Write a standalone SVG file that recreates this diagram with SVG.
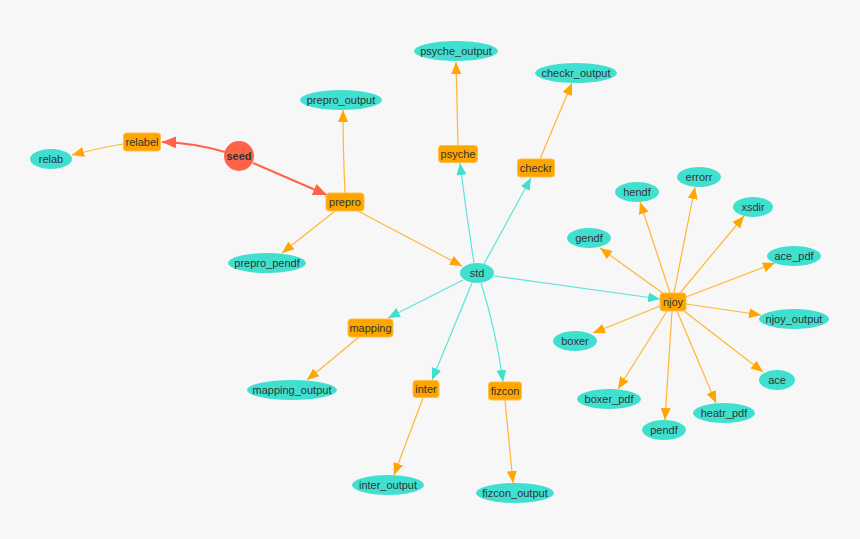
<svg xmlns="http://www.w3.org/2000/svg" width="860" height="539" viewBox="0 0 860 539">
<defs>
<style>
.bg{fill:#f7f7f7}
.e{fill:none;stroke-width:1.2}
.eo{stroke:#ffb733}
.et{stroke:#5ce5d8}
.er{stroke:#ff6347;stroke-width:2}
.box{fill:#ffa500;stroke:#ffbf4d;stroke-width:1}
.ell{fill:#40e0d0}
.seed{fill:#ff6347}
text{font-family:"Liberation Sans",Arial,sans-serif;font-size:11px;fill:#333;text-anchor:middle;dominant-baseline:central}
</style>
<marker id="ao" markerUnits="userSpaceOnUse" markerWidth="13" markerHeight="11" refX="12" refY="5" orient="auto"><path d="M0,0 L12,5 L0,10 z" fill="#ffa500"/></marker>
<marker id="at" markerUnits="userSpaceOnUse" markerWidth="13" markerHeight="11" refX="12" refY="5" orient="auto"><path d="M0,0 L12,5 L0,10 z" fill="#40e0d0"/></marker>
<marker id="ar" markerUnits="userSpaceOnUse" markerWidth="15" markerHeight="13" refX="14" refY="6" orient="auto"><path d="M0,0 L14,6 L0,12 z" fill="#ff6347"/></marker>
</defs>
<rect class="bg" width="860" height="539"/>
<g id="connectors">
<path class="e er" d="M225,152 Q195,143 162,142" marker-end="url(#ar)"/>
<path class="e er" d="M253,163 L327,195" marker-end="url(#ar)"/>
<path class="e eo" d="M123,144 Q98,148 72,155" marker-end="url(#ao)"/>
<path class="e eo" d="M345,193 Q343,150 343,110" marker-end="url(#ao)"/>
<path class="e eo" d="M335,211 L282,253" marker-end="url(#ao)"/>
<path class="e eo" d="M358,211 L462,266" marker-end="url(#ao)"/>
<path class="e et" d="M474,263 Q466,212 460,163" marker-end="url(#at)"/>
<path class="e eo" d="M458,145 L456,62" marker-end="url(#ao)"/>
<path class="e et" d="M484,264 L531,178" marker-end="url(#at)"/>
<path class="e eo" d="M540,159 L572,83" marker-end="url(#ao)"/>
<path class="e et" d="M463,280 L388,318" marker-end="url(#at)"/>
<path class="e eo" d="M359,337 L307,380" marker-end="url(#ao)"/>
<path class="e et" d="M472,283 L432,380" marker-end="url(#at)"/>
<path class="e eo" d="M423,398 L394,475" marker-end="url(#ao)"/>
<path class="e et" d="M481,283 Q496,330 503,382" marker-end="url(#at)"/>
<path class="e eo" d="M505,400 L513,483" marker-end="url(#ao)"/>
<path class="e et" d="M494,276 L660,299" marker-end="url(#at)"/>
<path class="e eo" d="M664,294 L600,248" marker-end="url(#ao)"/>
<path class="e eo" d="M670,293 L640,202" marker-end="url(#ao)"/>
<path class="e eo" d="M674,293 L695,187" marker-end="url(#ao)"/>
<path class="e eo" d="M680,293 L744,216" marker-end="url(#ao)"/>
<path class="e eo" d="M686,297 L775,263" marker-end="url(#ao)"/>
<path class="e eo" d="M686,304 L761,315" marker-end="url(#ao)"/>
<path class="e eo" d="M660,306 L593,333" marker-end="url(#ao)"/>
<path class="e eo" d="M667,311 L618,389" marker-end="url(#ao)"/>
<path class="e eo" d="M672,311 L665,420" marker-end="url(#ao)"/>
<path class="e eo" d="M677,311 L716,403" marker-end="url(#ao)"/>
<path class="e eo" d="M684,311 L763,372" marker-end="url(#ao)"/>
</g>
<g id="seed"><circle class="seed" cx="239" cy="156" r="15"/><text x="239" y="156" style="font-weight:bold">seed</text></g>
<g id="relabel"><rect class="box" x="123.5" y="133" width="37" height="18" rx="3"/><text x="142" y="142">relabel</text></g>
<g id="relab"><ellipse class="ell" cx="51" cy="159" rx="21" ry="10"/><text x="51" y="159">relab</text></g>
<g id="prepro"><rect class="box" x="326" y="193" width="38" height="18" rx="3"/><text x="345" y="202">prepro</text></g>
<g id="prepro_output"><ellipse class="ell" cx="341" cy="100" rx="41" ry="10"/><text x="341" y="100">prepro_output</text></g>
<g id="prepro_pendf"><ellipse class="ell" cx="267" cy="263" rx="39" ry="10"/><text x="267" y="263">prepro_pendf</text></g>
<g id="psyche_output"><ellipse class="ell" cx="456" cy="51" rx="42" ry="10"/><text x="456" y="51">psyche_output</text></g>
<g id="psyche"><rect class="box" x="438.5" y="145.5" width="39" height="17" rx="3"/><text x="458" y="154">psyche</text></g>
<g id="checkr_output"><ellipse class="ell" cx="576" cy="73" rx="41" ry="10"/><text x="576" y="73">checkr_output</text></g>
<g id="checkr"><rect class="box" x="517.5" y="159" width="37" height="18" rx="3"/><text x="536" y="168">checkr</text></g>
<g id="std"><ellipse class="ell" cx="477" cy="273" rx="17" ry="10"/><text x="477" y="273">std</text></g>
<g id="mapping"><rect class="box" x="348" y="319" width="45" height="18" rx="3"/><text x="370.5" y="328">mapping</text></g>
<g id="mapping_output"><ellipse class="ell" cx="292" cy="390" rx="45" ry="10"/><text x="292" y="390">mapping_output</text></g>
<g id="inter"><rect class="box" x="413" y="380.5" width="26" height="17" rx="3"/><text x="426" y="389">inter</text></g>
<g id="inter_output"><ellipse class="ell" cx="388" cy="485" rx="36" ry="10"/><text x="388" y="485">inter_output</text></g>
<g id="fizcon"><rect class="box" x="488.5" y="382" width="33" height="18" rx="3"/><text x="505" y="391">fizcon</text></g>
<g id="fizcon_output"><ellipse class="ell" cx="515" cy="493" rx="39" ry="10"/><text x="515" y="493">fizcon_output</text></g>
<g id="njoy"><rect class="box" x="660" y="293" width="26" height="18" rx="3"/><text x="673" y="302">njoy</text></g>
<g id="hendf"><ellipse class="ell" cx="637" cy="192" rx="22" ry="10"/><text x="637" y="192">hendf</text></g>
<g id="errorr"><ellipse class="ell" cx="699" cy="177" rx="22" ry="10"/><text x="699" y="177">errorr</text></g>
<g id="xsdir"><ellipse class="ell" cx="753" cy="207" rx="20" ry="10"/><text x="753" y="207">xsdir</text></g>
<g id="gendf"><ellipse class="ell" cx="589" cy="238" rx="22" ry="10"/><text x="589" y="238">gendf</text></g>
<g id="ace_pdf"><ellipse class="ell" cx="794" cy="256" rx="27" ry="10"/><text x="794" y="256">ace_pdf</text></g>
<g id="njoy_output"><ellipse class="ell" cx="794" cy="319" rx="35" ry="10"/><text x="794" y="319">njoy_output</text></g>
<g id="boxer"><ellipse class="ell" cx="575" cy="341" rx="22" ry="10"/><text x="575" y="341">boxer</text></g>
<g id="boxer_pdf"><ellipse class="ell" cx="609" cy="399" rx="32" ry="10"/><text x="609" y="399">boxer_pdf</text></g>
<g id="pendf"><ellipse class="ell" cx="664" cy="430" rx="22" ry="10"/><text x="664" y="430">pendf</text></g>
<g id="heatr_pdf"><ellipse class="ell" cx="724" cy="413" rx="31" ry="10"/><text x="724" y="413">heatr_pdf</text></g>
<g id="ace"><ellipse class="ell" cx="777" cy="380" rx="18" ry="10"/><text x="777" y="380">ace</text></g>
</svg>
